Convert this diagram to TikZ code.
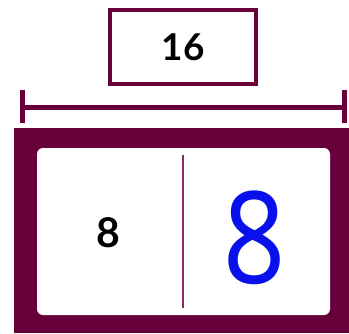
\documentclass[tikz,border=0pt]{standalone}
\usepackage{fontspec}
\usetikzlibrary{positioning,calc}
\newfontfamily\numfont{Lato}
\newfontfamily\inkfont{Noto Sans}
\definecolor{framemaroon}{RGB}{104,0,58}
\definecolor{dividerplum}{RGB}{140,40,100}
\definecolor{inkblue}{RGB}{8,16,235}

\begin{document}
\begin{tikzpicture}[x=1pt, y=-1pt, totalbox/.style={draw=framemaroon, line width=4pt, minimum width=146pt, minimum height=74pt, inner sep=0pt, font=\fontsize{37}{37}\selectfont\numfont\bfseries}, measure/.style={draw=framemaroon, line width=5pt}, partnum/.style={inner sep=0pt, font=\fontsize{41}{41}\selectfont\numfont\bfseries}]
\useasboundingbox (0,0) rectangle (349,333);
\node[totalbox] (total) at (183,47) {16};
\coordinate (mleft) at (22.5,107.5);
\coordinate (mright) at (344,107.5);
\draw[measure] (mleft) -- (mright);
\draw[measure] ($(mleft)+(0,-18)$) -- ($(mleft)+(0,15)$);
\draw[measure] ($(mright)+(0,-18)$) -- ($(mright)+(0,15)$);
\node[fill=framemaroon, minimum width=335pt, minimum height=205pt, inner sep=0pt] (bar) at (181.5,230.5) {};
\node[fill=white, rounded corners=6pt, minimum width=293pt, minimum height=167pt, inner sep=0pt] (inner) at (183.5,231.5) {};
\coordinate (dtop) at (183,155);
\coordinate (dbot) at (183,308);
\draw[dividerplum, line width=2.5pt] (dtop) -- (dbot);
\node[partnum] (known) at (108,233) {8};
\node[inkblue, inner sep=0pt, xscale=0.85, font=\fontsize{128}{128}\selectfont\inkfont] (missing) at (255,238) {8};
\end{tikzpicture}
\end{document}
